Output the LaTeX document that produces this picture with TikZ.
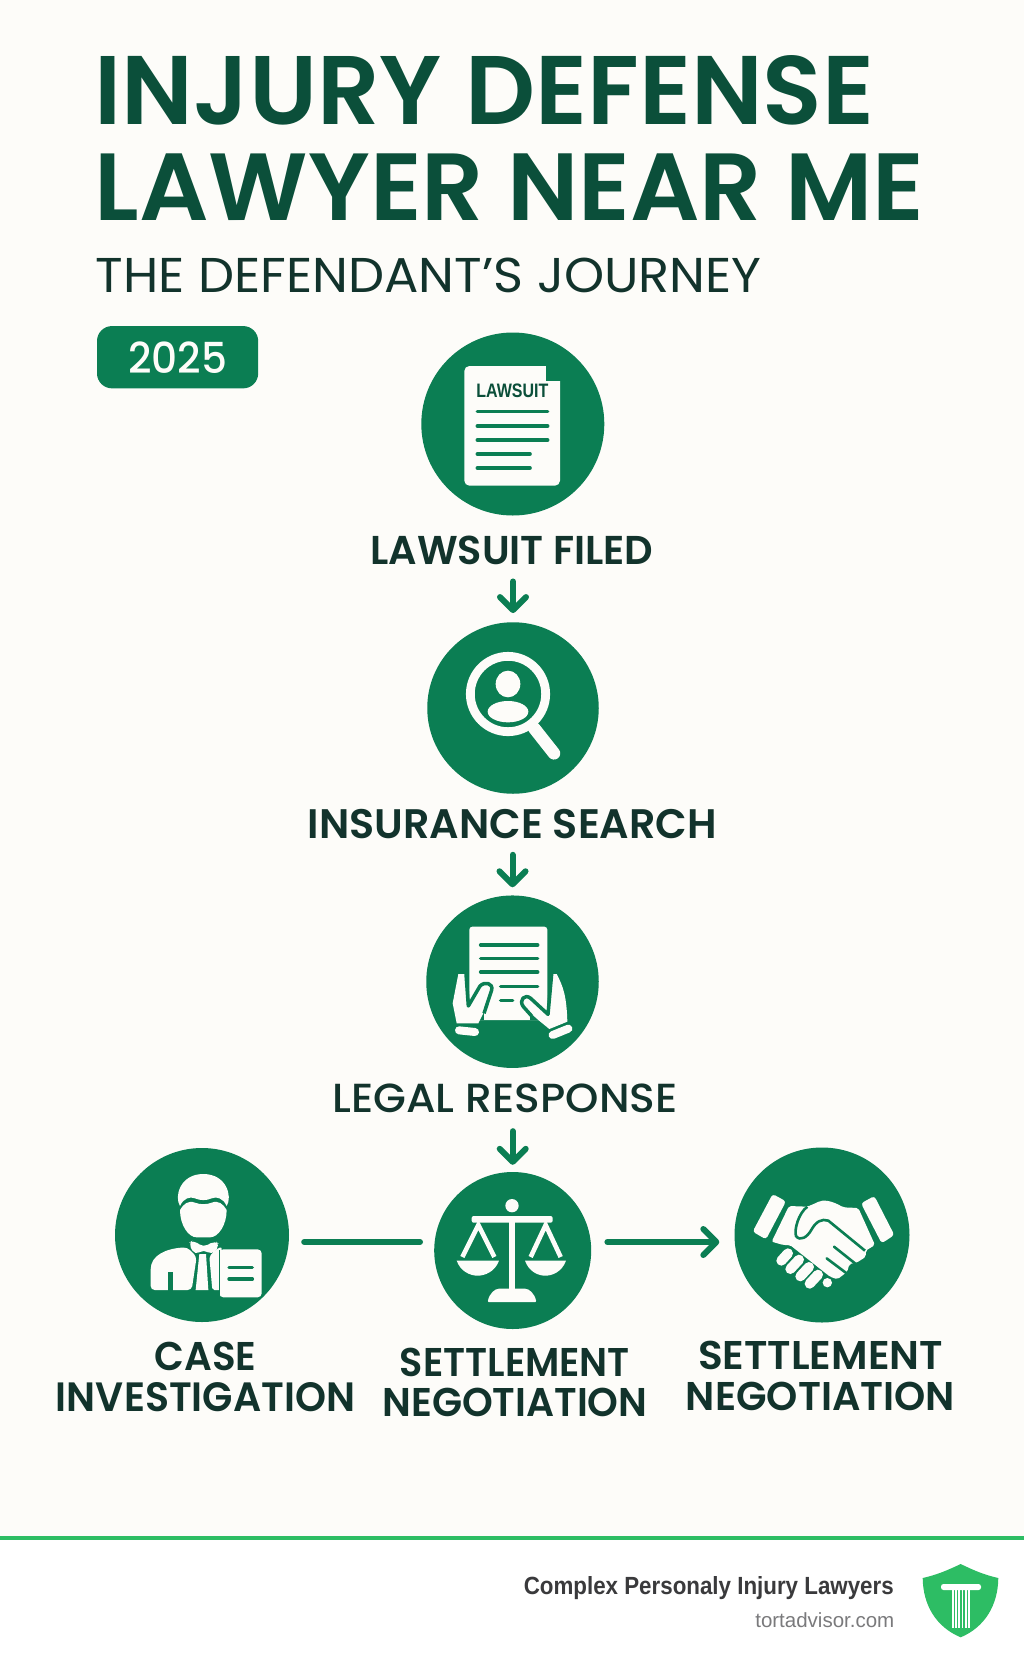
\documentclass[tikz,border=0pt]{standalone}
\usepackage{fontspec}
\usepackage{graphicx}
\usetikzlibrary{arrows.meta}
\setmainfont{Poppins}
\newfontfamily\titlefont{Poppins SemiBold}
\newfontfamily\medfont{Poppins Medium}
\newfontfamily\footfont{Liberation Sans}
\newcommand{\fitbox}[3]{\resizebox{#1pt}{#2pt}{#3}}
\definecolor{pagebg}{HTML}{FDFCF9}
\definecolor{brand}{HTML}{0B7E53}
\definecolor{titlegreen}{HTML}{0B4F3A}
\definecolor{ink}{HTML}{12332C}
\definecolor{lime}{HTML}{2DBD64}
\definecolor{footdark}{HTML}{3A3A3C}
\definecolor{footgray}{HTML}{7A7A7C}
\tikzset{
  zm/.style 2 args={shift={(#1,#2)},x=0.33333pt,y=-0.33333pt},
  disc/.style={circle,fill=brand,inner sep=0pt,minimum size=#1},
  lab/.style={font=\titlefont\fontsize{38}{40.5}\selectfont,text=ink,align=center,inner sep=0pt},
  title/.style={anchor=base west,inner sep=0pt,font=\titlefont\fontsize{92}{92}\selectfont,text=titlegreen},
  flow/.style={draw=brand,line width=6pt,line cap=round},
  flowarrow/.style={flow,-{Straight Barb[length=13pt,width=26pt,line width=6pt,round]}},
  ico/.style={fill=pagebg,draw=none},
  gline/.style={draw=brand,line width=3.6pt,line cap=round},
}
\begin{document}
\begin{tikzpicture}[x=1pt,y=-1pt]
\useasboundingbox (0,0) rectangle (1024,1666);
\fill[pagebg] (0,0) rectangle (1024,1538);
\fill[white] (0,1538) rectangle (1024,1666);
\fill[lime] (0,1536) rectangle (1024,1539.5);

\node[title] (t1) at (94.5,124) {\fitbox{779.5}{69}{INJURY DEFENSE}};
\node[title] (t2) at (94.5,220) {\fitbox{829.5}{66.7}{LAWYER NEAR ME}};
\node[anchor=base west,inner sep=0pt,font=\fontsize{48}{48}\selectfont,text=ink] (t3) at (95.5,292.7) {\fitbox{666}{34.5}{THE DEFENDANT’S JOURNEY}};
\node[fill=brand,rounded corners=15pt,minimum width=161.2pt,minimum height=62.3pt,inner sep=0pt,text=pagebg,font=\medfont\fontsize{38}{38}\selectfont] (yr) at (177.6,357.2) {\fitbox{99}{31.7}{2025}};

\node[disc=183pt] (c1) at (512.8,424) {};
\node[disc=171.5pt] (c2) at (513,708) {};
\node[disc=172.5pt] (c3) at (512.5,981.7) {};
\node[disc=174pt] (c4) at (202,1235) {};
\node[disc=157pt] (c5) at (512.7,1250.5) {};
\node[disc=175pt] (c6) at (822,1235) {};

\node[lab,anchor=base] (l1) at (512,564) {\fitbox{283}{28.5}{LAWSUIT FILED}};
\node[lab,anchor=base] (l2) at (512.5,838.3) {\fitbox{409}{29.2}{INSURANCE SEARCH}};
\node[lab,anchor=base,font=\medfont\fontsize{38}{40.5}\selectfont] (l3) at (505,1112.7) {\fitbox{345}{28.6}{LEGAL RESPONSE}};
\node[lab] (l4) at (205.5,1377) {\fitbox{102}{28.4}{CASE}\\\fitbox{299}{29}{INVESTIGATION}};
\node[lab] (l5) at (515,1382.5) {\fitbox{230}{28.4}{SETTLEMENT}\\\fitbox{265}{28.4}{NEGOTIATION}};
\node[lab] (l6) at (820.5,1376) {\fitbox{245}{28.4}{SETTLEMENT}\\\fitbox{269}{28.4}{NEGOTIATION}};

\draw[flowarrow,shorten <=17pt,shorten >=9pt] (c2.north |- l1.south) -- (c2.north);
\draw[flowarrow,shorten <=16pt,shorten >=8pt] (c3.north |- l2.south) -- (c3.north);
\draw[flowarrow,shorten <=18pt,shorten >=7pt] (c5.north |- l3.south) -- (c5.north);
\draw[flow,shorten <=15pt,shorten >=14pt] (c4.east |- 0,1242) -- (c5.west |- 0,1242);
\draw[flowarrow,shorten <=16pt,shorten >=15pt] (c5.east |- 0,1242) -- (c6.west |- 0,1242);

% lawsuit document
\begin{scope}[zm={400}{340}]
\fill[ico,rounded corners=5pt] (193,78) rectangle (480,437);
\fill[brand] (437,70) rectangle (486,122);
\node[inner sep=0pt,anchor=base,text=titlegreen,font=\footfont\bfseries\fontsize{17.5}{17.5}\selectfont] (lawtxt) at (337,172) {\fitbox{72}{13.6}{LAWSUIT}};
\foreach \yy/\xx in {215/443,258/443,300/443,342/390,384/390}
  \draw[gline] (232,\yy) -- (\xx,\yy);
\end{scope}

% magnifier
\begin{scope}[zm={410}{610}]
\draw[draw=pagebg,line width=8.8pt] (294,252) circle (113);
\draw[draw=pagebg,line width=12.5pt,line cap=round] (372,354) -- (432,430);
\fill[ico] (294,222) ellipse (37 and 40);
\fill[ico] (294,305) ellipse (61 and 32);
\end{scope}

% paper in hands
\begin{scope}[zm={410}{880}]
\fill[ico,rounded corners=3pt] (178,140) rectangle (412,420);
\foreach \yy/\xa/\xb in {195/212/383,236/212/383,276/212/383,319/272/383,362/272/308}
  \draw[gline] (\xa,\yy) -- (\xb,\yy);
\fill[brand] (170,420) rectangle (222,380);
\fill[brand] (360,421) rectangle (416,405);
\fill[ico] (145,282) -- (168,282) -- (175,378) -- (210,318) .. controls (225,303) and (250,310) .. (245,330) -- (222,395) -- (205,430) -- (140,430) -- (128,370) -- cycle;
\draw[draw=brand,line width=3.5pt,line join=round] (168,282) -- (175,378) -- (210,318) .. controls (225,303) and (250,310) .. (245,330) -- (222,400);
\fill[ico] (425,282) -- (440,282) .. controls (460,320) and (470,350) .. (472,425) -- (418,447) -- (385,420) -- (340,380) .. controls (325,360) and (345,340) .. (362,355) -- (412,403) -- cycle;
\draw[draw=brand,line width=3.5pt,line join=round] (425,282) -- (414,403) -- (362,355) .. controls (345,340) and (325,360) .. (340,380) -- (365,408);
\draw[draw=pagebg,line width=8pt,line cap=round] (147,451) -- (195,456);
\draw[draw=pagebg,line width=8pt,line cap=round] (428,465) -- (475,446);
\end{scope}

% investigator
\begin{scope}[zm={100}{1130}]
\fill[ico] (240,228) .. controls (222,200) and (240,132) .. (310,132) .. controls (380,132) and (398,200) .. (380,228) .. controls (370,205) and (350,198) .. (335,205) .. controls (320,212) and (300,212) .. (285,205) .. controls (270,198) and (250,205) .. (240,228) -- cycle;
\fill[ico] (240,240) .. controls (250,222) and (265,210) .. (285,218) .. controls (300,224) and (320,224) .. (335,218) .. controls (355,210) and (370,222) .. (380,240) .. controls (380,285) and (355,322) .. (330,322) -- (290,322) .. controls (265,322) and (240,285) .. (240,240) -- cycle;
\fill[ico,rounded corners=5pt] (265,340) -- (280,330) -- (310,352) -- (345,332) -- (360,345) -- (335,375) -- (312,358) -- (285,375) -- cycle;
\fill[ico,rounded corners=4pt] (152,480) -- (152,430) .. controls (152,375) and (200,355) .. (262,352) -- (290,380) -- (275,480) -- cycle;
\fill[ico] (298,372) -- (318,372) -- (325,480) -- (287,480) -- cycle;
\fill[ico,rounded corners=2pt] (328,380) -- (345,360) -- (365,350) -- (365,480) -- (337,480) -- cycle;
\fill[brand] (205,425) rectangle (218,482);
\fill[ico,rounded corners=4pt] (358,358) rectangle (485,502);
\draw[gline,line width=3.4pt] (387,412) -- (457,412);
\draw[gline,line width=3.4pt] (387,447) -- (457,447);
\draw[draw=brand,line width=1.5pt] (358,360) -- (358,500);
\end{scope}

% scales
\begin{scope}[zm={410}{1130}]
\fill[ico] (306,227) circle (20);
\fill[ico,rounded corners=2pt] (185,258) rectangle (428,278);
\fill[ico] (296,270) rectangle (316,485);
\fill[ico,rounded corners=1pt] (233,516) .. controls (238,490) and (255,476) .. (270,476) -- (342,476) .. controls (357,476) and (374,490) .. (379,516) -- cycle;
\draw[draw=pagebg,line width=4.6pt,line join=miter] (157,381) -- (205,285) -- (253,381);
\draw[draw=pagebg,line width=4.6pt,line join=miter] (362,381) -- (407,285) -- (452,381);
\fill[ico] (140,392) -- (267,392) .. controls (255,425) and (225,437) .. (203,437) .. controls (181,437) and (152,425) .. (140,392) -- cycle;
\fill[ico] (345,392) -- (468,392) .. controls (456,425) and (428,437) .. (406,437) .. controls (384,437) and (357,425) .. (345,392) -- cycle;
\end{scope}

% handshake
\begin{scope}[zm={720}{1130}]
\fill[ico,rounded corners=3pt] (158,192) -- (198,214) -- (138,328) -- (98,305) -- cycle;
\fill[ico,rounded corners=3pt] (463,198) -- (423,220) -- (485,340) -- (523,315) -- cycle;
\fill[ico,rounded corners=2pt] (207,228) -- (262,230) -- (290,218) .. controls (310,208) and (335,212) .. (370,232) -- (415,234) -- (465,345) -- (437,362) -- (438,380) -- (410,398) -- (388,402) -- (382,425) -- (352,448) -- (330,440) -- (210,345) -- (190,345) -- (155,335) -- cycle;
\draw[draw=brand,line width=2.6pt,line join=round] (262,230) .. controls (235,250) and (222,300) .. (228,318) .. controls (240,335) and (262,322) .. (275,298) .. controls (288,275) and (305,265) .. (325,272) -- (435,362);
\draw[draw=brand,line width=2.6pt,line cap=round] (342,350) -- (405,400);
\draw[draw=brand,line width=2.6pt,line cap=round] (320,385) -- (380,430);
\draw[draw=pagebg,line width=10pt,line cap=round] (184,392) -- (204,370);
\draw[draw=pagebg,line width=10pt,line cap=round] (211,417) -- (237,389);
\draw[draw=pagebg,line width=10pt,line cap=round] (241,439) -- (267,411);
\draw[draw=pagebg,line width=10pt,line cap=round] (269,461) -- (294,434);
\fill[ico] (322,458) circle (14);
\end{scope}

% footer
\node[anchor=base east,inner sep=0pt,font=\footfont\bfseries\fontsize{24}{24}\selectfont,text=footdark] (f1) at (894,1594) {\fitbox{370}{18}{Complex Personaly Injury Lawyers}};
\node[anchor=base east,inner sep=0pt,font=\footfont\fontsize{20.5}{20.5}\selectfont,text=footgray] (f2) at (894.5,1627) {tortadvisor.com};

% shield
\fill[lime] (960.7,1564) .. controls (975,1571) and (985,1575) .. (998.3,1578) .. controls (998,1605) and (985,1627) .. (960.7,1637.3) .. controls (936,1627) and (923,1605) .. (922.7,1578) .. controls (936,1575) and (946,1571) .. (960.7,1564) -- cycle;
\fill[white,rounded corners=2.5pt] (941,1584) rectangle (981,1590);
\foreach \i in {0,...,5}
  \fill[white] ({952+\i*3.2},1588) rectangle ({953.8+\i*3.2},1628);
\end{tikzpicture}
\end{document}
